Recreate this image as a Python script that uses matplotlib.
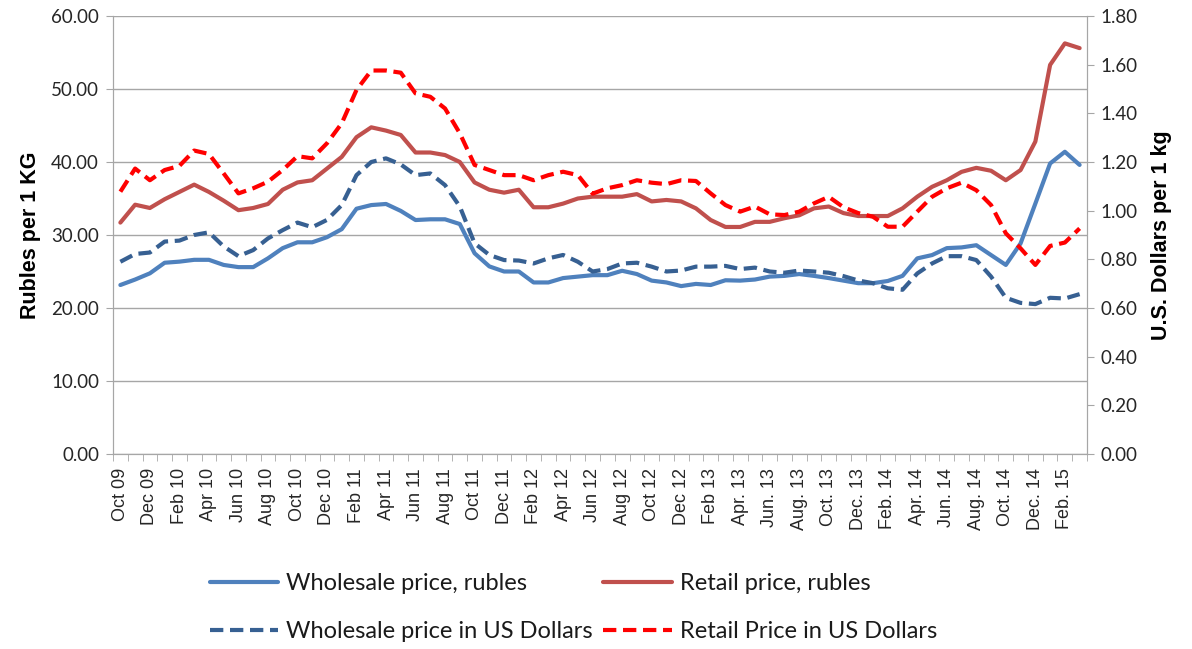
import matplotlib
matplotlib.use("Agg")
import matplotlib.pyplot as plt
from matplotlib.ticker import FixedLocator, FormatStrFormatter
import numpy as np

months = ["Oct 09", "Nov 09", "Dec 09", "Jan 10", "Feb 10", "Mar 10", "Apr 10", "May 10", "Jun 10", "Jul 10",
          "Aug 10", "Sep 10", "Oct 10", "Nov 10", "Dec 10", "Jan 11", "Feb 11", "Mar 11", "Apr 11", "May 11",
          "Jun 11", "Jul 11", "Aug 11", "Sep 11", "Oct 11", "Nov 11", "Dec 11", "Jan 12", "Feb 12", "Mar 12",
          "Apr 12", "May 12", "Jun 12", "Jul 12", "Aug 12", "Sep 12", "Oct 12", "Nov 12", "Dec 12", "Jan 13",
          "Feb 13", "Mar. 13", "Apr. 13", "May. 13", "Jun. 13", "Jul. 13", "Aug. 13", "Sep. 13", "Oct. 13",
          "Nov. 13", "Dec. 13", "Jan. 14", "Feb. 14", "Mar. 14", "Apr. 14", "May. 14", "Jun. 14", "Jul. 14",
          "Aug. 14", "Sep. 14", "Oct. 14", "Nov. 14", "Dec. 14", "Jan. 15", "Feb. 15", "Mar. 15"]

wholesale_rub = [23.15, 23.9, 24.75, 26.2, 26.35, 26.6, 26.6, 25.9, 25.6, 25.6,
                 26.8, 28.2, 29.0, 29.0, 29.7, 30.8, 33.6, 34.1, 34.25, 33.3,
                 32.05, 32.15, 32.15, 31.5, 27.5, 25.7, 25.0, 25.0, 23.5, 23.5,
                 24.1, 24.3, 24.5, 24.5, 25.1, 24.65, 23.75, 23.5, 23.0, 23.3,
                 23.15, 23.8, 23.75, 23.9, 24.3, 24.4, 24.65, 24.4, 24.1, 23.75,
                 23.4, 23.4, 23.7, 24.4, 26.8, 27.25, 28.2, 28.3, 28.6, 27.25,
                 25.9, 28.85, 34.3, 39.8, 41.4, 39.6]

retail_rub = [31.7, 34.15, 33.7, 34.9, 35.9, 36.9, 35.9, 34.7, 33.4, 33.7,
              34.25, 36.2, 37.2, 37.5, 39.1, 40.7, 43.4, 44.75, 44.3, 43.7,
              41.3, 41.3, 40.95, 40.0, 37.2, 36.2, 35.8, 36.2, 33.8, 33.8,
              34.3, 35.0, 35.25, 35.25, 35.25, 35.6, 34.6, 34.8, 34.6, 33.65,
              32.05, 31.1, 31.1, 31.8, 31.8, 32.3, 32.7, 33.65, 33.9, 33.0,
              32.6, 32.6, 32.6, 33.65, 35.25, 36.6, 37.5, 38.65, 39.2, 38.8,
              37.5, 38.9, 42.8, 53.3, 56.25, 55.6]

wholesale_usd = [0.79, 0.822, 0.828, 0.873, 0.877, 0.90, 0.911, 0.853, 0.813, 0.838,
                 0.886, 0.92, 0.951, 0.932, 0.962, 1.023, 1.146, 1.20, 1.215, 1.19,
                 1.146, 1.153, 1.105, 1.017, 0.866, 0.818, 0.797, 0.795, 0.783, 0.804,
                 0.818, 0.79, 0.75, 0.76, 0.783, 0.786, 0.77, 0.75, 0.754, 0.77,
                 0.77, 0.773, 0.76, 0.766, 0.75, 0.745, 0.754, 0.75, 0.745, 0.731,
                 0.713, 0.702, 0.681, 0.675, 0.742, 0.783, 0.813, 0.813, 0.797, 0.729,
                 0.642, 0.621, 0.616, 0.642, 0.639, 0.657]

retail_usd = [1.078, 1.173, 1.125, 1.167, 1.184, 1.247, 1.233, 1.153, 1.071, 1.092,
              1.119, 1.167, 1.224, 1.215, 1.277, 1.359, 1.496, 1.576, 1.576, 1.567,
              1.482, 1.468, 1.42, 1.318, 1.188, 1.167, 1.146, 1.146, 1.125, 1.146,
              1.16, 1.146, 1.07, 1.092, 1.105, 1.125, 1.115, 1.109, 1.125, 1.122,
              1.071, 1.023, 0.996, 1.017, 0.985, 0.982, 0.996, 1.03, 1.057, 1.014,
              0.99, 0.975, 0.934, 0.934, 0.996, 1.057, 1.092, 1.115, 1.084, 1.023,
              0.907, 0.845, 0.777, 0.855, 0.869, 0.927]

legend_labels = ["Wholesale price, rubles", "Retail price, rubles",
                 "Wholesale price in US Dollars", "Retail Price in US Dollars"]

C_WR = "#4F81BD"
C_RR = "#C0504D"
C_WU = "#376092"
C_RU = "#FF0000"
GRID = "#A6A6A6"
TXT = "#262626"

fig = plt.figure(figsize=(11.92, 6.49), dpi=100)
ax = fig.add_axes([113/1192, 1 - 454/649, (1087 - 113)/1192, (454 - 16)/649])
ax2 = ax.twinx()

x = np.arange(len(months))
l1, = ax.plot(x, wholesale_rub, color=C_WR, lw=3.0, solid_capstyle="round", zorder=3)
l2, = ax.plot(x, retail_rub, color=C_RR, lw=3.0, solid_capstyle="round", zorder=3)
l3, = ax2.plot(x, wholesale_usd, color=C_WU, lw=3.0, dashes=(3.2, 1.6), zorder=3)
l4, = ax2.plot(x, retail_usd, color=C_RU, lw=3.0, dashes=(3.2, 1.6), zorder=3)

ax.set_xlim(-0.5, len(months) - 0.5)
ax.set_ylim(0, 60)
ax2.set_ylim(0, 1.8)
ax.set_yticks(np.arange(0, 61, 10))
ax2.set_yticks(np.arange(0, 1.81, 0.2))
ax.yaxis.set_major_formatter(FormatStrFormatter("%.2f"))
ax2.yaxis.set_major_formatter(FormatStrFormatter("%.2f"))

ax.yaxis.grid(True, color=GRID, lw=1.0)
ax.set_axisbelow(True)

# x ticks: labels every two months at category centers, tick marks at boundaries
ax.set_xticks(x[::2])
ax.set_xticklabels(months[::2], rotation=90, fontsize=13, family="Liberation Sans", color=TXT)
ax.tick_params(axis="x", which="major", length=0, pad=10)
ax.xaxis.set_minor_locator(FixedLocator(np.arange(-0.5, len(months), 1.0)))
ax.tick_params(axis="x", which="minor", length=5, color=GRID, direction="out")

for a in (ax, ax2):
    for s in a.spines.values():
        s.set_color(GRID)
    a.spines["top"].set_visible(False)
ax.tick_params(axis="y", length=5, color=GRID, labelsize=13.5, pad=5, labelcolor=TXT)
ax2.tick_params(axis="y", length=5, color=GRID, labelsize=13.5, pad=5, labelcolor=TXT)
for lab in ax.get_yticklabels() + ax2.get_yticklabels():
    lab.set_family("Lato")

ax.set_ylabel("Rubles per 1 KG", fontsize=15.5, fontweight="bold", family="Liberation Sans", labelpad=7)
ax2.set_ylabel("U.S. Dollars per 1 kg", fontsize=15.5, fontweight="bold", family="Liberation Sans",
               rotation=90, labelpad=9)

leg = fig.legend([l1, l3, l2, l4],
                 [legend_labels[0], legend_labels[2], legend_labels[1], legend_labels[3]],
                 loc="center", bbox_to_anchor=(0.481, 0.064), ncol=2, frameon=False,
                 prop={"family": "Lato", "size": 17}, handlelength=2.9, handletextpad=0.33,
                 columnspacing=0.45, labelspacing=1.15)
for t in leg.get_texts():
    t.set_color("#1a1a1a")

fig.savefig("out.png", dpi=100)
